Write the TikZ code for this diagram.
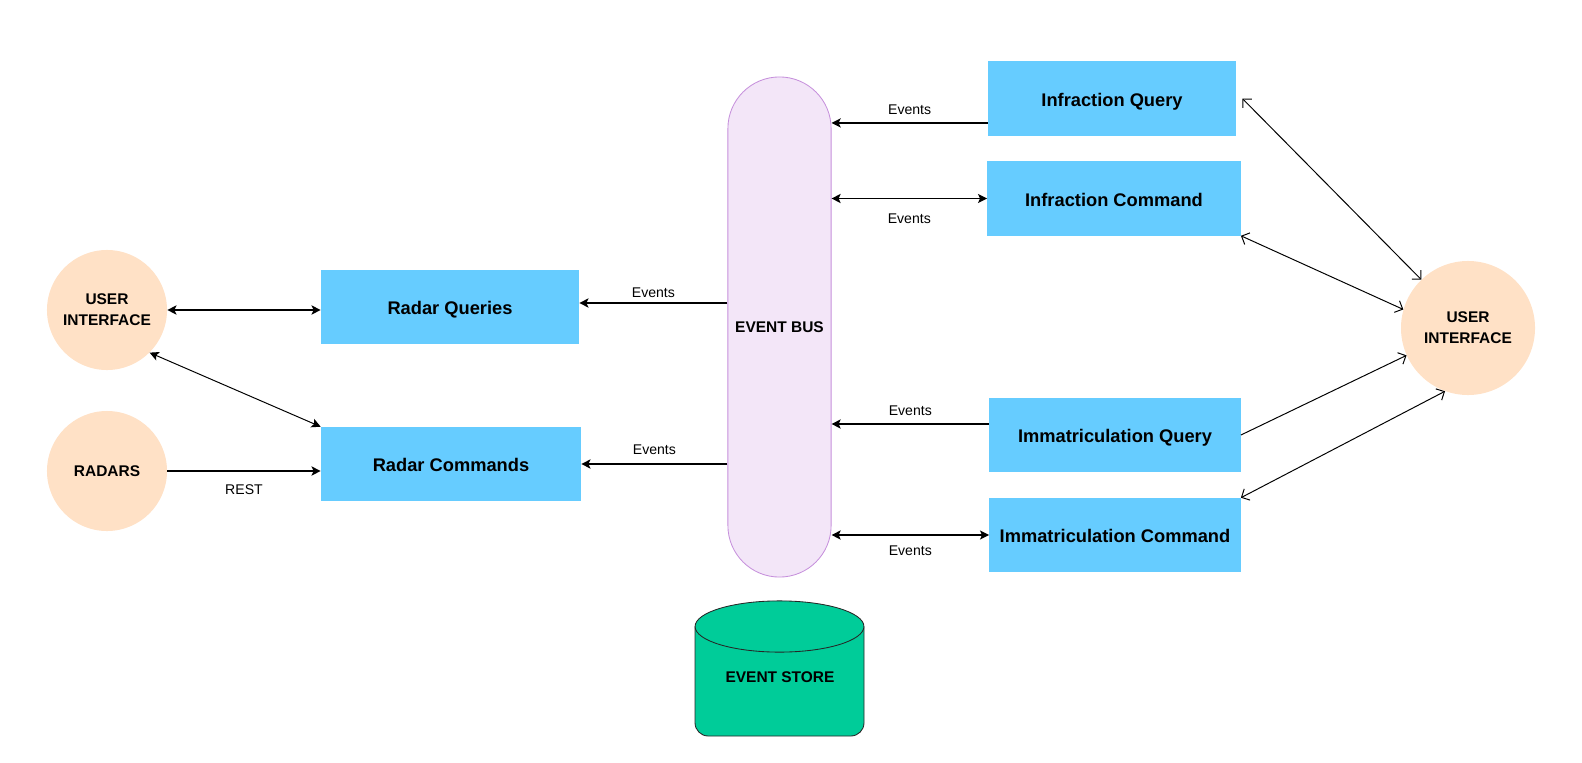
\documentclass[tikz,border=0pt]{standalone}
\usepackage{fontspec}
\setmainfont{Liberation Sans}
\usetikzlibrary{arrows.meta}
\definecolor{boxblue}{HTML}{66CCFF}
\definecolor{peach}{HTML}{FFE1C6}
\definecolor{busfill}{HTML}{F3E6F8}
\definecolor{busline}{HTML}{C690DC}
\definecolor{storegreen}{HTML}{00CC99}

\begin{document}
\begin{tikzpicture}[x=0.025cm, y=-0.025cm,
  >={Stealth[length=6.5pt,width=6.5pt,inset=1.5pt]},
  openv/.tip={Straight Barb[length=4.5pt,width=9pt]},
  svc/.style={fill=boxblue, minimum height=1.85cm, text height=11pt, text depth=0pt,
    font=\bfseries\fontsize{13}{15}\selectfont},
  actor/.style={circle, fill=peach, align=center, font=\bfseries\fontsize{11}{15}\selectfont},
  fat/.style={line width=1.3pt},
  mid/.style={line width=1pt},
  thin/.style={line width=0.7pt},
  lbl/.style={font=\fontsize{10}{12}\selectfont}]
\useasboundingbox (0,0) rectangle (1582,762);

% left side
\node[actor, minimum size=3cm] (uil) at (107,310) {USER\\INTERFACE};
\node[actor, minimum size=3cm] (radars) at (107,471) {RADARS};
\node[svc, minimum width=6.45cm] (rq) at (450,307) {Radar Queries};
\node[svc, minimum width=6.5cm] (rc) at (451,464) {Radar Commands};

% bus and store
\node[draw=busline, fill=busfill, line width=0.6pt, rounded corners=1.29cm,
  minimum width=2.58cm, minimum height=12.5cm,
  font=\bfseries\fontsize{11}{13}\selectfont] (bus) at (779.5,327) {EVENT BUS};
\filldraw[fill=storegreen, draw=black!85, line width=0.6pt] (695,626.5) [rounded corners=0.33cm] -- (695,736) -- (864,736) -- (864,626.5);
\filldraw[fill=storegreen, draw=black!85, line width=0.6pt] (779.5,626.5) ellipse (2.11cm and 0.64cm);
\node[font=\bfseries\fontsize{11}{13}\selectfont] (store) at (780,677) {EVENT STORE};

% right side
\node[svc, minimum width=6.2cm] (iq) at (1112,98.5) {Infraction Query};
\node[svc, minimum width=6.33cm] (ic) at (1114,198.5) {Infraction Command};
\node[svc, minimum width=6.28cm] (mq) at (1115,435) {Immatriculation Query};
\node[svc, minimum width=6.28cm] (mc) at (1115,535) {Immatriculation Command};
\node[actor, minimum size=3.35cm] (uir) at (1468,328) {USER\\INTERFACE};

% left connectors
\draw[fat,<->] (uil.east) -- (uil.east -| rq.west);
\draw[thin,<->] (uil.south east) -- (rc.north west);
\draw[fat,->] (radars.east) -- (radars.east -| rc.west) node[lbl, midway, below=6pt] {REST};
\draw[fat,->] ([yshift=0.1cm]bus.west |- rq.east) -- ([yshift=0.1cm]rq.east) node[lbl, midway, above] {Events};
\draw[fat,->] (bus.west |- rc.east) -- (rc.east) node[lbl, midway, above=3pt] {Events};

% middle connectors
\coordinate (iqout) at ([yshift=-0.61cm]iq.west);
\coordinate (mqout) at ([yshift=0.275cm]mq.west);
\draw[mid,->] (iqout) -- (iqout -| bus.east) node[lbl, midway, above=2pt] {Events};
\draw[mid,<->] (bus.east |- ic.west) -- (ic.west) node[lbl, midway, below=7pt] {Events};
\draw[mid,->] (mqout) -- (mqout -| bus.east) node[lbl, midway, above=2pt] {Events};
\draw[mid,<->] (bus.east |- mc.west) -- (mc.west) node[lbl, midway, below=4pt] {Events};

% right connectors
\draw[thin,openv-openv] ([xshift=0.15cm]iq.east) -- (uir.134);
\draw[thin,openv-openv] (ic.south east) -- (uir.164);
\draw[thin,-openv] (mq.east) -- (uir.204);
\draw[thin,openv-openv] (mc.north east) -- (uir.250);
\end{tikzpicture}
\end{document}
